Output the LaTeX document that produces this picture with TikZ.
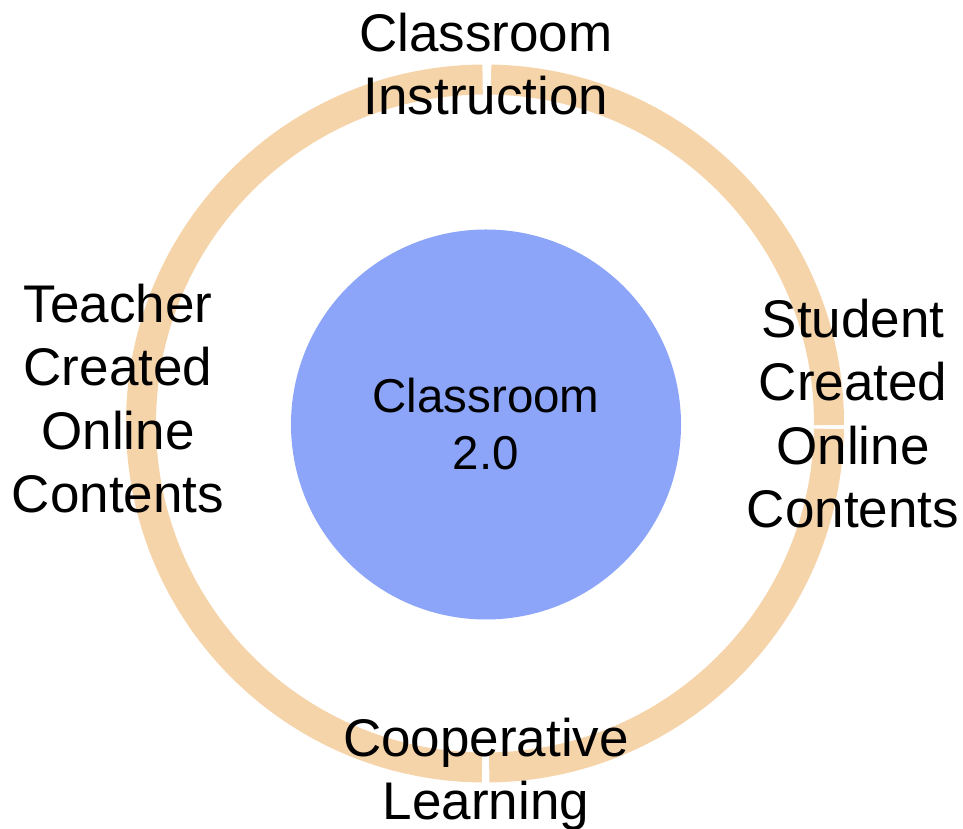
\documentclass[tikz,border=0pt]{standalone}
\usepackage{fontspec}
\setmainfont{Liberation Sans}
\definecolor{ringcol}{RGB}{246,212,170}
\definecolor{corecol}{RGB}{140,165,248}
\begin{document}
\begin{tikzpicture}[x=1pt,y=1pt,
  outerlabel/.style={align=center,anchor=base,inner sep=0pt,font={\fontsize{53}{63.5}\selectfont}},
  corelabel/.style={align=center,anchor=base,inner sep=0pt,font={\fontsize{47.5}{57}\selectfont}},
  ringseg/.style={draw=ringcol,line width=30pt}]
\useasboundingbox (0,0) rectangle (963,829);
\coordinate (c) at (485,405.5);
% ring segments
\draw[ringseg] (c) ++(-0.25:344) arc[start angle=-0.25,end angle=89.0,radius=344];
\draw[ringseg] (c) ++(90.4:344) arc[start angle=90.4,end angle=269.5,radius=344];
\draw[ringseg] (c) ++(270.7:344) arc[start angle=270.7,end angle=359.1,radius=344];
% centre circle
\node[circle,fill=corecol,minimum size=390pt,inner sep=0pt] (core) at (486,404.5) {};
\node[corelabel] (coretext) at (486,359) {Classroom\\2.0};
% labels
\node[outerlabel] (top) at (486,714) {Classroom\\Instruction};
\node[outerlabel] (left) at (118,316) {Teacher\\Created\\Online\\Contents};
\node[outerlabel] (right) at (853,301) {Student\\Created\\Online\\Contents};
\node[outerlabel] (bottom) at (486,9) {Cooperative\\Learning};
\end{tikzpicture}
\end{document}
